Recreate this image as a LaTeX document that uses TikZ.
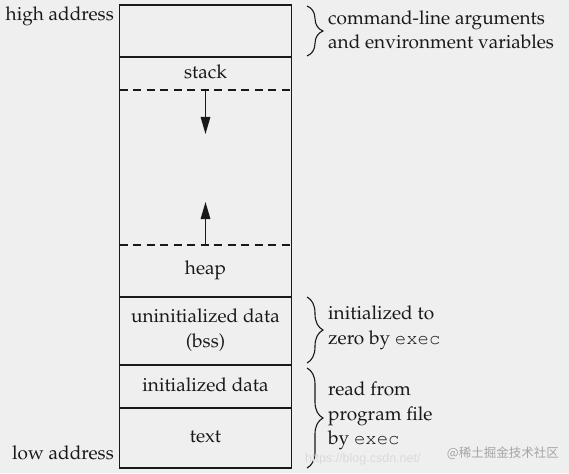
\documentclass[tikz,border=0pt]{standalone}
\usepackage{fontspec}
\newfontfamily\cjkfont{Noto Sans CJK SC}
\newfontfamily\wmfont{Liberation Sans}
\usepackage[T1]{fontenc}
\usepackage{mathpazo}
\usepackage{courier}
\usetikzlibrary{arrows.meta,decorations.pathreplacing}
\definecolor{bg}{RGB}{239,239,239}
\definecolor{ink}{RGB}{25,25,25}
\definecolor{wmlight}{RGB}{218,218,218}
\definecolor{wmdark}{RGB}{165,165,165}
\begin{document}
\begin{tikzpicture}[x=1pt,y=-1pt,
  lbl/.style={inner sep=0pt,text=ink,font=\fontsize{19}{24.5}\selectfont},
  memseg/.style={draw=ink,line width=1.2pt,minimum width=172pt,inner sep=0pt,outer sep=0pt},
  sepline/.style={draw=ink,line width=1.1pt,dash pattern=on 8pt off 5.5pt},
  growarrow/.style={draw=ink,line width=1.4pt,-{Triangle[length=17pt,width=9.5pt]}},
  bracedec/.style={draw=ink,line width=1.1pt,decorate,decoration={brace,amplitude=16pt}}]
\useasboundingbox (0,0) rectangle (569,473);
\fill[bg] (0,0) rectangle (569,473);

% memory segments
\node[memseg,minimum height=52pt] (args) at (205.5,31) {};
\node[memseg,minimum height=240pt] (dyn) at (205.5,177) {};
\node[memseg,minimum height=68pt] (bss) at (205.5,331) {};
\node[memseg,minimum height=43pt] (data) at (205.5,386.5) {};
\node[memseg,minimum height=60pt] (textseg) at (205.5,438) {};

% dashed boundaries
\draw[sepline] (119.5,90) -- (291.5,90);
\draw[sepline] (119.5,245) -- (291.5,245);

% labels in segments
\node[lbl] (stack) at (205.5,72) {stack};
\node[lbl] (heap) at (205.5,270) {heap};
\node[lbl,align=center] (bsslbl) at (205.5,330) {uninitialized data\\(bss)};
\node[lbl] (datalbl) at (205.5,385) {initialized data};
\node[lbl] (textlbl) at (205.5,437) {text};

% growth arrows
\coordinate (sdstart) at (205.5,90);
\coordinate (sdtip) at (205.5,134);
\coordinate (hpstart) at (205.5,245);
\coordinate (hptip) at (205.5,202);
\draw[growarrow] (sdstart) -- (sdtip);
\draw[growarrow] (hpstart) -- (hptip);

% address labels
\node[lbl,anchor=east] (hi) at (114,16) {high address};
\node[lbl,anchor=east] (lo) at (114,453) {low address};

% braces
\coordinate (b1s) at (307,6);
\coordinate (b1e) at (307,56);
\coordinate (b2s) at (307,297);
\coordinate (b2e) at (307,363);
\coordinate (b3s) at (307,368);
\coordinate (b3e) at (307,468);
\draw[bracedec] (b1s) -- (b1e);
\draw[bracedec] (b2s) -- (b2e);
\draw[bracedec] (b3s) -- (b3e);

\node[lbl,align=left,anchor=west] (argtxt) at (328,30) {command-line arguments\\and environment variables};
\node[lbl,align=left,anchor=west] (bsstxt) at (328,328) {initialized to\\zero by \texttt{exec}};
\node[lbl,align=left,anchor=west] (rdtxt) at (328,416) {read from\\program file\\by \texttt{exec}};

% watermark
\node[inner sep=0pt,anchor=west,text=wmlight,font=\wmfont\fontsize{12.5}{13}\selectfont] (wmurl) at (305,459) {https://blog.csdn.net/};
\node[inner sep=0pt,anchor=east,text=wmdark,font=\cjkfont\fontsize{12.5}{13}\selectfont] (wmcjk) at (559,453) {@稀土掘金技术社区};
\end{tikzpicture}
\end{document}
